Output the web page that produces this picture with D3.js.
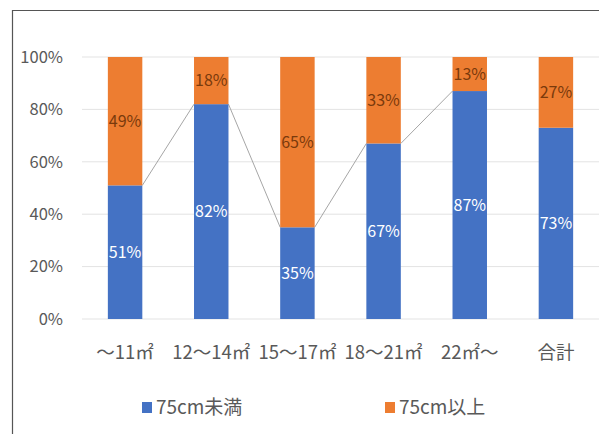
<!DOCTYPE html>
<html lang="ja">
<head>
<meta charset="UTF-8">
<title>75cm</title>
<script src="https://d3js.org/d3.v7.min.js"></script>
<style>
    body { margin: 0; background: #fff; }
    text { font-family: "Noto Sans CJK JP", "Noto Sans", sans-serif; }
</style>
</head>
<body>
<div id="chart"></div>
<script>
    const categories = ["～11㎡", "12～14㎡", "15～17㎡", "18～21㎡", "22㎡～", "合計"];
    const under75 = [51, 82, 35, 67, 87, 73];
    const over75 = [49, 18, 65, 33, 13, 27];
    const yTicks = [0, 20, 40, 60, 80, 100];
    const seriesNames = ["75cm未満", "75cm以上"];
    const colors = ["#4472C4", "#ED7D31"];

    const width = 599, height = 434;
    const margin = {top: 57, right: 0, bottom: 115, left: 82};

    const svg = d3.select("#chart").append("svg")
        .attr("width", width)
        .attr("height", height);

    // frame lines (left + top only, like the cropped screenshot)
    svg.append("line").attr("x1", 12.5).attr("x2", 12.5).attr("y1", 10).attr("y2", height)
        .attr("stroke", "#555").attr("stroke-width", 1.2);
    svg.append("line").attr("x1", 12).attr("x2", width).attr("y1", 10.5).attr("y2", 10.5)
        .attr("stroke", "#555").attr("stroke-width", 1.2);

    const x = d3.scaleBand()
        .domain(categories)
        .range([margin.left, width - margin.right])
        .paddingInner(0.6)
        .paddingOuter(0.3);

    const y = d3.scaleLinear()
        .domain([0, 100])
        .range([height - margin.bottom, margin.top]);

    // grid
    svg.append("g").selectAll("line")
        .data(yTicks)
        .join("line")
        .attr("x1", margin.left).attr("x2", width - margin.right)
        .attr("y1", d => y(d)).attr("y2", d => y(d))
        .attr("stroke", "#e3e3e3").attr("stroke-width", 1);

    svg.append("g").selectAll("text")
        .data(yTicks)
        .join("text")
        .attr("x", 63)
        .attr("y", d => y(d))
        .attr("dy", "0.35em")
        .attr("text-anchor", "end")
        .attr("font-size", 16.5)
        .attr("fill", "#595959")
        .text(d => d + "%");

    const rows = categories.map((c, i) => ({cat: c, a: under75[i], b: over75[i]}));
    const stack = d3.stack().keys(["a", "b"])(rows);

    // series lines between the blue tops (not to 合計)
    const lineData = rows.slice(0, 5);
    const seg = [];
    for (let i = 0; i < lineData.length - 1; i++) {
        seg.push([lineData[i], lineData[i + 1]]);
    }
    svg.append("g").selectAll("line")
        .data(seg)
        .join("line")
        .attr("x1", d => x(d[0].cat) + x.bandwidth())
        .attr("y1", d => y(d[0].a))
        .attr("x2", d => x(d[1].cat))
        .attr("y2", d => y(d[1].a))
        .attr("stroke", "#a6a6a6")
        .attr("stroke-width", 1);

    svg.append("g").selectAll("g")
        .data(stack)
        .join("g")
        .attr("fill", (d, i) => colors[i])
        .selectAll("rect")
        .data(d => d)
        .join("rect")
        .attr("x", d => x(d.data.cat))
        .attr("width", x.bandwidth())
        .attr("y", d => y(d[1]))
        .attr("height", d => y(d[0]) - y(d[1]));

    // data labels
    const labelColors = ["#ffffff", "#7a3a0c"];
    stack.forEach((s, k) => {
        svg.append("g").selectAll("text")
            .data(s)
            .join("text")
            .attr("x", d => x(d.data.cat) + x.bandwidth() / 2)
            .attr("y", d => y((d[0] + d[1]) / 2))
            .attr("dy", "0.35em")
            .attr("text-anchor", "middle")
            .attr("font-size", 16)
            .attr("fill", labelColors[k])
            .text(d => (d[1] - d[0]) + "%");
    });

    // category labels
    svg.append("g").selectAll("text")
        .data(categories)
        .join("text")
        .attr("x", d => x(d) + x.bandwidth() / 2)
        .attr("y", 353)
        .attr("dy", "0.35em")
        .attr("text-anchor", "middle")
        .attr("font-size", 18.5)
        .attr("fill", "#595959")
        .text(d => d);

    // legend
    const legendX = [142, 385];
    const lg = svg.append("g").selectAll("g")
        .data(seriesNames)
        .join("g")
        .attr("transform", (d, i) => `translate(${legendX[i]},407)`);
    lg.append("rect")
        .attr("x", 0).attr("y", -5)
        .attr("width", 10).attr("height", 11)
        .attr("fill", (d, i) => colors[i]);
    lg.append("text")
        .attr("x", 14)
        .attr("dy", "0.35em")
        .attr("font-size", 19)
        .attr("fill", "#595959")
        .text(d => d);
</script>
</body>
</html>
